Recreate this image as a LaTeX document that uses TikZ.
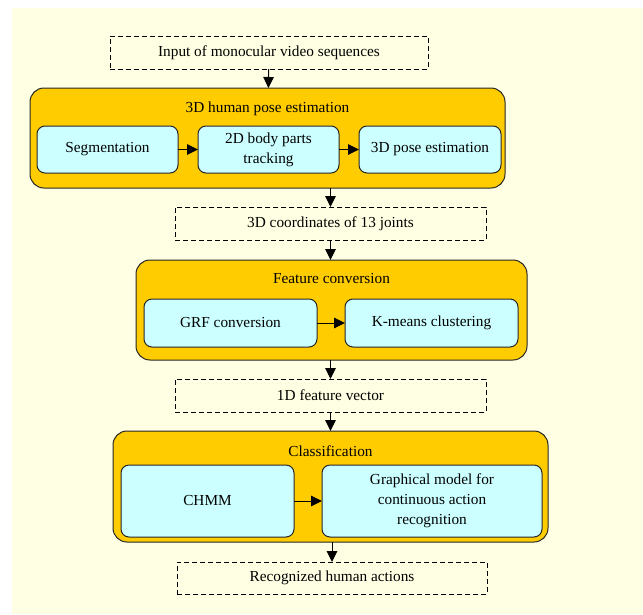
\documentclass[tikz,border=0pt]{standalone}
\usepackage{fontspec}
\setmainfont{Liberation Serif}
\usepackage{tikz}
\usetikzlibrary{positioning,arrows.meta}
\definecolor{paper}{HTML}{FFFFE3}
\definecolor{stage}{HTML}{FFCC00}
\definecolor{part}{HTML}{CCFFFF}

\begin{document}
\begin{tikzpicture}[
    x=1pt, y=-1pt,
    font=\fontsize{15.3}{20}\selectfont,
    stagebox/.style={rectangle, draw=black!85, fill=stage, line width=1pt, rounded corners=14pt, inner sep=0pt, outer sep=0pt},
    partbox/.style={rectangle, draw=black!85, fill=part, line width=1pt, rounded corners=8pt, minimum height=47pt, inner sep=2pt, outer sep=0pt, text centered, align=center},
    databox/.style={rectangle, draw=black, dash pattern=on 5pt off 3pt, line width=1pt, minimum height=33pt, inner sep=0pt, outer sep=0pt},
    flow/.style={-{Triangle[length=11pt,width=10.5pt]}, line width=1pt, black}
]
    % page
    \useasboundingbox (0,0) rectangle (643,614);
    \fill[paper] (12,8) rectangle (643,614);

    \node[databox, minimum width=318pt] (input) at (269,52.5) {Input of monocular video sequences};

    % 3D human pose estimation
    \node[stagebox, minimum width=475pt, minimum height=100pt] (pose) at (267.5,138) {};
    \node (posetitle) at (267.5,109) {3D human pose estimation};
    \node[partbox, minimum width=141pt] (seg) at (107.5,149.5) {Segmentation};
    \node[partbox, minimum width=141pt] (track) at (268.5,149.5) {2D body parts\\tracking};
    \node[partbox, minimum width=142pt] (est) at (430,149.5) {3D pose estimation};

    \node[databox, minimum width=311pt] (joints) at (330.5,223.5) {3D coordinates of 13 joints};

    % feature conversion
    \node[stagebox, minimum width=391pt, minimum height=100pt] (feat) at (331.5,310) {};
    \node (feattitle) at (331.5,279) {Feature conversion};
    \node[partbox, minimum width=173pt, minimum height=48pt] (grf) at (230.5,323) {GRF conversion};
    \node[partbox, minimum width=173pt, minimum height=48pt] (kmeans) at (431.5,323) {K-means clustering};

    \node[databox, minimum width=311pt] (vec) at (330.5,395.5) {1D feature vector};

    % classification
    \node[stagebox, minimum width=435pt, minimum height=111pt] (cls) at (330.5,486.5) {};
    \node (clstitle) at (330.5,451) {Classification};
    \node[partbox, minimum width=173pt, minimum height=72pt] (chmm) at (207.5,501) {CHMM};
    \node[partbox, minimum width=220pt, minimum height=72pt] (graph) at (432,501) {Graphical model for\\continuous action\\recognition};

    \node[databox, minimum width=310pt, minimum height=32pt] (out) at (332,578) {Recognized human actions};

    \draw[flow] (input) -- (pose);
    \draw[flow] (seg) -- (track);
    \draw[flow] (track) -- (est);
    \draw[flow] (joints.north |- pose.south) -- (joints);
    \draw[flow] (joints) -- (joints.south |- feat.north);
    \draw[flow] (grf) -- (kmeans);
    \draw[flow] (vec.north |- feat.south) -- (vec);
    \draw[flow] (vec) -- (vec.south |- cls.north);
    \draw[flow] (chmm) -- (graph);
    \draw[flow] (out.north |- cls.south) -- (out);
\end{tikzpicture}
\end{document}
